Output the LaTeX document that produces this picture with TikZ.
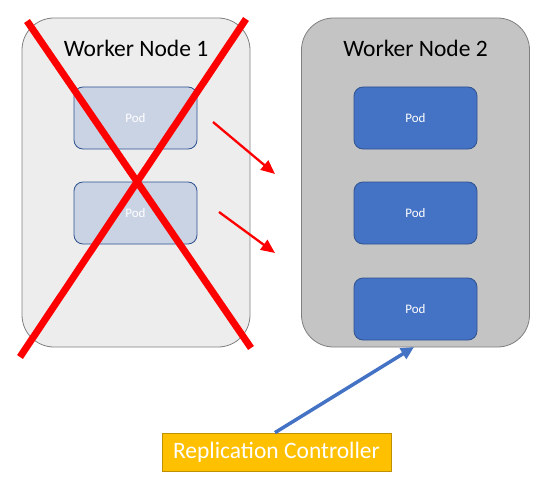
\documentclass[tikz,border=0pt]{standalone}
\usepackage{fontspec}
\setmainfont{Carlito}
\usetikzlibrary{arrows.meta}
\definecolor{nodeonefill}{HTML}{EDEDED}
\definecolor{nodetwofill}{HTML}{C4C4C4}
\definecolor{nodeborder}{HTML}{7F7F7F}
\definecolor{podfill}{HTML}{4472C4}
\definecolor{podborder}{HTML}{2F528F}
\definecolor{podfaded}{HTML}{CAD3E4}
\definecolor{rcfill}{HTML}{FFC000}
\definecolor{rcborder}{HTML}{BF9000}
\definecolor{xred}{HTML}{FF0000}
\tikzset{
  worker/.style={draw=nodeborder, line width=0.8pt, rounded corners=32pt, minimum width=228pt, minimum height=329pt, inner sep=0pt},
  podbox/.style={draw=podborder, fill=podfill, line width=0.8pt, rounded corners=9pt, minimum width=123pt, minimum height=62pt, inner sep=0pt, text=white, font=\fontsize{13}{15}\selectfont},
  fadedpod/.style={podbox, fill=podfaded},
  title/.style={font=\fontsize{23.5}{28}\selectfont, text=black},
  redarrow/.style={draw=xred, line width=2.3pt, -{Triangle[length=14pt,width=12pt]}},
  cross/.style={draw=xred, line width=7pt},
  bluearrow/.style={draw=podfill, line width=3.5pt, -{Triangle[length=13pt,width=12pt]}},
}
\begin{document}
\begin{tikzpicture}[x=1pt,y=-1pt]
\useasboundingbox (0,0) rectangle (548,492);
% worker nodes
\node[worker, fill=nodeonefill] (w1) at (136,182.5) {};
\node[worker, fill=nodetwofill] (w2) at (415.5,182.5) {};
\node[title] (t1) at (136,48) {Worker Node 1};
\node[title] (t2) at (415.5,48) {Worker Node 2};
% pods
\node[fadedpod] (p1a) at (135.5,118) {Pod};
\node[fadedpod] (p1b) at (135.5,213) {Pod};
\node[podbox] (p2a) at (415.5,118) {Pod};
\node[podbox] (p2b) at (415.5,213) {Pod};
\node[podbox] (p2c) at (415.5,309) {Pod};
% red cross
\coordinate (xa1) at (27,21);
\coordinate (xa2) at (251,348);
\coordinate (xb1) at (246,19);
\coordinate (xb2) at (20,357);
\draw[cross] (xa1) -- (xa2);
\draw[cross] (xb1) -- (xb2);
% red arrows
\coordinate (ra1) at (213,122);
\coordinate (ra2) at (275,174);
\coordinate (rb1) at (219,212);
\coordinate (rb2) at (275,253);
\draw[redarrow] (ra1) -- (ra2);
\draw[redarrow] (rb1) -- (rb2);
% replication controller
\node[draw=rcborder, fill=rcfill, line width=0.8pt, minimum width=229pt, minimum height=38pt, inner sep=0pt, text=white, font=\fontsize{23.5}{28}\selectfont] (rc) at (276.5,452) {Replication Controller};
\coordinate (bt) at (414,347);
\draw[bluearrow] (rc.north -| 275,0) -- (bt);
\end{tikzpicture}
\end{document}
